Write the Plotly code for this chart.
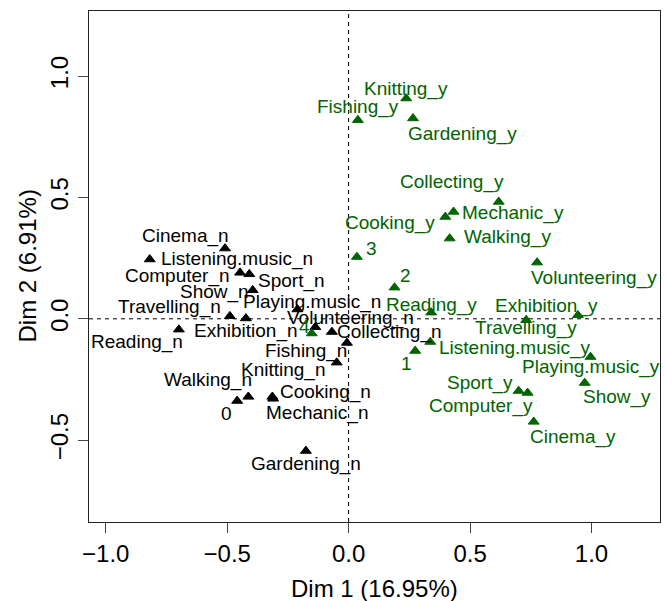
import plotly.graph_objects as go

# Category coordinates on the first two MCA dimensions
labels_n = ["Cinema_n", "Listening.music_n", "Computer_n", "Sport_n", "Show_n",
            "Playing.music_n", "Travelling_n", "Exhibition_n", "Reading_n",
            "Volunteering_n", "Collecting_n", "Fishing_n", "Knitting_n",
            "Walking_n", "0", "Cooking_n", "Mechanic_n", "Gardening_n"]
dim1_n = [-0.509, -0.819, -0.447, -0.409, -0.395, -0.211, -0.489, -0.423, -0.699,
          -0.137, -0.069, -0.007, -0.049, -0.413, -0.459, -0.314, -0.311, -0.176]
dim2_n = [0.290, 0.245, 0.190, 0.184, 0.118, 0.039, 0.011, 0.002, -0.044,
          -0.034, -0.054, -0.099, -0.180, -0.321, -0.338, -0.321, -0.329, -0.544]

labels_y = ["Knitting_y", "Fishing_y", "Gardening_y", "Collecting_y", "Mechanic_y",
            "Cooking_y", "Walking_y", "Volunteering_y", "3", "2", "Reading_y",
            "Exhibition_y", "Travelling_y", "Listening.music_y", "1",
            "Playing.music_y", "Show_y", "Sport_y", "Computer_y", "Cinema_y", "4"]
dim1_y = [0.237, 0.038, 0.265, 0.618, 0.432, 0.398, 0.416, 0.776, 0.034, 0.189,
          0.340, 0.944, 0.731, 0.336, 0.274, 0.996, 0.972, 0.700, 0.737, 0.762, -0.152]
dim2_y = [0.908, 0.819, 0.826, 0.482, 0.441, 0.420, 0.331, 0.232, 0.255, 0.129,
          0.026, 0.015, -0.005, -0.095, -0.132, -0.157, -0.264, -0.297, -0.305,
          -0.424, -0.060]

x_ticks = [-1.0, -0.5, 0.0, 0.5, 1.0]
y_ticks = [-0.5, 0.0, 0.5, 1.0]

# Label offsets in pixels (dx right, dy down) to keep labels from overlapping
offs_n = [(-40, -12), (87, 0), (-63, 3), (42, 7), (-38, 2), (15, -7), (-60, -9),
          (0, 13), (-42, 12), (35, -9), (58, 0), (-41, 8), (-53, 7), (-40, -17),
          (-11, 13), (53, -5), (44, 14), (0, 13)]
offs_y = [(0, -9), (0, -13), (49, 16), (-47, -20), (59, 1), (-55, 6), (58, -1),
          (57, 16), (15, -8), (11, -12), (0, -8), (-31, -9), (0, 8), (85, 6),
          (-9, 13), (0, 10), (32, 14), (-39, -8), (-47, 13), (39, 15), (-7, -7)]

BLACK = "#000000"
GREEN = "#006400"
FONT = "Liberation Sans, Arial, Helvetica, sans-serif"

fig = go.Figure()
fig.add_trace(go.Scatter(x=dim1_n, y=dim2_n, mode="markers",
                         marker=dict(symbol="triangle-up", size=9.5, color=BLACK,
                                     line=dict(color=BLACK, width=1)),
                         hovertext=labels_n, showlegend=False))
fig.add_trace(go.Scatter(x=dim1_y, y=dim2_y, mode="markers",
                         marker=dict(symbol="triangle-up", size=9.5, color=GREEN,
                                     line=dict(color=GREEN, width=1)),
                         hovertext=labels_y, showlegend=False))

annotations = []
for labs, xs, ys, offs, col in [(labels_n, dim1_n, dim2_n, offs_n, BLACK),
                                (labels_y, dim1_y, dim2_y, offs_y, GREEN)]:
    for lab, xv, yv, (dx, dy) in zip(labs, xs, ys, offs):
        annotations.append(dict(x=xv, y=yv, xref="x", yref="y", text=lab,
                                showarrow=False, xshift=dx, yshift=-dy,
                                xanchor="center", yanchor="middle",
                                font=dict(family=FONT, size=19, color=col)))

# Axis titles
annotations.append(dict(x=0.5, y=0, xref="paper", yref="paper", text="Dim 1 (16.95%)",
                        showarrow=False, yshift=-66, xanchor="center", yanchor="middle",
                        font=dict(family=FONT, size=24, color=BLACK)))
annotations.append(dict(x=0, y=0.5, xref="paper", yref="paper", text="Dim 2 (6.91%)",
                        showarrow=False, xshift=-62, textangle=-90,
                        xanchor="center", yanchor="middle",
                        font=dict(family=FONT, size=24, color=BLACK)))

shapes = [
    dict(type="line", xref="x", yref="paper", x0=0, x1=0, y0=0, y1=1,
         line=dict(color=BLACK, width=1, dash="4px,4px"), layer="below"),
    dict(type="line", xref="paper", yref="y", x0=0, x1=1, y0=0, y1=0,
         line=dict(color=BLACK, width=1, dash="4px,4px"), layer="below"),
]

axis_common = dict(showgrid=False, zeroline=False, showline=True, mirror=True,
                   linecolor="#222222", linewidth=1, ticks="outside", ticklen=10,
                   tickcolor="#444444", tickwidth=1,
                   tickfont=dict(family=FONT, size=24, color=BLACK))

fig.update_layout(
    width=665, height=601,
    margin=dict(l=89, r=5, t=11, b=79),
    paper_bgcolor="white", plot_bgcolor="white",
    xaxis=dict(range=[-1.069, 1.282], tickvals=x_ticks,
               ticktext=[f"{v:.1f}".replace("-", "\u2212") for v in x_ticks],
               **axis_common),
    yaxis=dict(range=[-0.837, 1.268], tickvals=y_ticks,
               ticktext=[f"{v:.1f}".replace("-", "\u2212") for v in y_ticks],
               tickangle=-90, **axis_common),
    annotations=annotations,
    shapes=shapes,
)

fig.write_html("out.html")
